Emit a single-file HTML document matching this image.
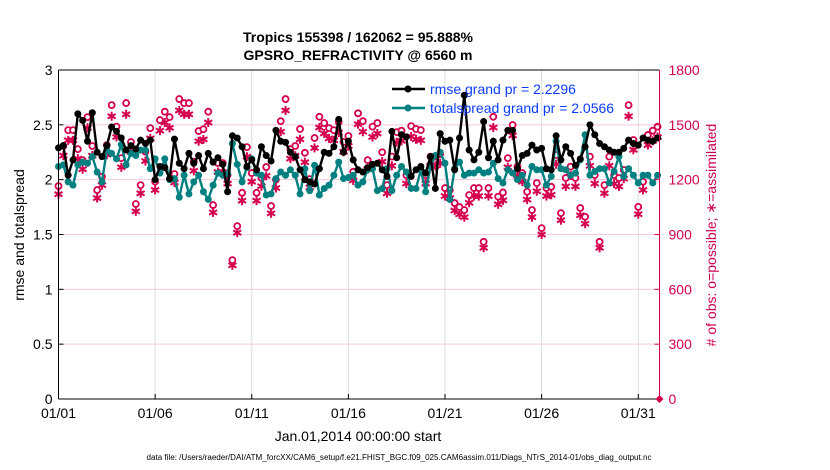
<!DOCTYPE html>
<html><head><meta charset="utf-8"><style>
html,body{margin:0;padding:0;background:#fff;}
svg{display:block;font-family:"Liberation Sans",Arial,sans-serif;}
</style></head><body>
<svg id="chart" width="830" height="470" viewBox="0 0 830 470">
<text x="358" y="42" text-anchor="middle" font-size="14" font-weight="bold">Tropics 155398 / 162062 = 95.888%</text>
<text x="358" y="60" text-anchor="middle" font-size="14" font-weight="bold">GPSRO_REFRACTIVITY @ 6560 m</text>
<g id="grid"></g>
<g id="marks"></g>
<g id="axes"></g>
<text transform="translate(24,235) rotate(-90)" text-anchor="middle" font-size="14">rmse and totalspread</text>
<text transform="translate(716,235) rotate(-90)" text-anchor="middle" font-size="14" fill="#cc0055"># of obs: o=possible; ∗=assimilated</text>
<text x="358" y="441" text-anchor="middle" font-size="14">Jan.01,2014 00:00:00 start</text>
<text x="399" y="460" text-anchor="middle" font-size="8" textLength="505" lengthAdjust="spacingAndGlyphs">data file: /Users/raeder/DAI/ATM_forcXX/CAM6_setup/f.e21.FHIST_BGC.f09_025.CAM6assim.011/Diags_NTrS_2014-01/obs_diag_output.nc</text>
<g>
<line x1="392" y1="89" x2="425" y2="89" stroke="#000" stroke-width="2.5"/>
<circle cx="408" cy="89" r="3.5" fill="#000"/>
<text x="430" y="94" font-size="14" fill="#0a3cff">rmse grand pr = 2.2296</text>
<line x1="392" y1="108" x2="425" y2="108" stroke="#008080" stroke-width="2.5"/>
<circle cx="408" cy="108" r="3.5" fill="#008080"/>
<text x="430" y="113" font-size="14" fill="#0a3cff">totalspread grand pr = 2.0566</text>
</g>
</svg>
<script>
const rmse=[2.29,2.31,2.04,2.18,2.60,2.54,2.35,2.61,
2.25,2.21,2.31,2.48,2.44,2.38,2.27,2.31,
2.28,2.36,2.33,2.36,2.00,2.12,2.11,2.01,
2.37,2.15,2.10,2.24,2.15,2.22,2.10,2.24,
2.16,2.20,2.14,1.89,2.40,2.38,2.30,2.12,
2.18,2.09,2.30,2.22,2.17,2.45,2.35,2.34,
2.25,2.21,2.09,2.00,1.98,1.96,2.10,2.25,
2.24,2.30,2.55,2.25,2.35,
2.18,2.09,2.07,2.11,2.14,2.15,2.09,2.03,2.44,2.20,2.41,2.39,2.03,2.09,2.12,2.06,2.21,1.92,2.42,2.35,2.36,2.09,2.38,2.77,2.27,2.18,2.25,2.53,2.20,2.35,2.18,2.36,2.45,
2.45,2.10,2.22,2.24,2.315,2.27,2.285,2.10,2.09,2.40,2.18,2.30,2.24,2.13,2.19,2.30,2.50,2.41,2.33,2.30,2.27,2.25,2.25,2.285,2.36,2.33,2.315,2.38,2.36,2.35,2.38];
const spread=[2.12,2.135,1.98,1.95,2.135,2.16,2.15,2.21,2.07,1.98,2.27,2.24,2.19,2.32,2.135,2.24,2.22,2.27,2.27,2.10,2.19,2.06,2.19,2.00,2.01,1.84,2.04,1.87,1.98,2.04,1.89,1.82,
1.95,2.06,2.04,2.05,2.33,2.14,1.98,2.11,2.19,2.06,2.04,1.86,1.87,2.01,2.07,2.04,2.09,2.04,1.87,2.10,1.90,2.13,1.86,1.92,1.95,2.04,2.16,2.01,2.02,
2.04,1.95,1.98,2.09,2.10,1.90,1.92,2.10,1.90,2.04,2.12,2.07,1.92,1.92,2.09,1.89,2.12,2.22,2.25,2.15,1.82,2.10,2.16,2.04,2.06,2.06,2.09,2.06,2.07,2.15,2.01,1.97,
2.09,2.06,2.00,2.04,1.95,2.12,2.09,2.09,1.95,2.03,2.35,2.10,2.09,2.04,2.06,2.18,2.41,2.04,2.075,2.10,2.10,1.97,2.075,2.21,2.03,2.10,2.04,1.97,2.04,2.04,1.97,2.04];
const possible=[1165,1384,1471,1471,1367,1307,1542,1384,1143,1216,1389,1608,1490,1318,1619,1406,1067,1170,1353,1482,1189,1526,1572,1542,1231,1641,1619,1619,1298,1466,1476,1572,
1061,1291,1291,1225,760,946,1128,1378,1236,1128,1210,1269,1056,1200,1520,1641,1367,1384,1477,1347,1203,1428,1544,1510,1482,1471,1515,1406,1439,1243,
1563,1520,1307,1490,1510,1350,1170,1326,1460,1468,1225,1493,1477,1471,1225,1326,1326,1340,1154,1143,1072,1050,1034,1116,1154,1154,860,1154,1544,1107,1130,1318,
1499,1271,1236,1134,1034,1181,935,1154,1161,1335,1017,1209,1271,1209,1045,997,1326,1225,860,1170,1326,1225,1209,1253,1608,1417,1051,1189,1444,1468,1490];
const assimRatio=0.962;
const xTickLabels=["01/01","01/06","01/11","01/16","01/21","01/26","01/31"];
const xTickDays=[0,5,10,15,20,25,30];
const yTicks=[0,0.5,1,1.5,2,2.5,3];
const y2Ticks=[0,300,600,900,1200,1500,1800];

const NS="http://www.w3.org/2000/svg";
const L=58.5,R=659.5,T=70,B=399,DMAX=31.1;
const X=d=>L+d/DMAX*(R-L);
const Y=v=>B-v/3*(B-T);
const Y2=c=>B-c/1800*(B-T);
const MAG="#d4004f";
function mk(tag,attrs,parent){const e=document.createElementNS(NS,tag);for(const k in attrs)e.setAttribute(k,attrs[k]);parent.appendChild(e);return e;}
const grid=document.getElementById('grid'),marks=document.getElementById('marks'),axes=document.getElementById('axes');
xTickDays.forEach((d,i)=>{
  const g=mk('line',{x1:X(d),x2:X(d),y1:T,y2:B,stroke:"#dcdcdc","stroke-width":1},grid);
  
  
  const t=mk('text',{x:X(d),y:B+19,"text-anchor":"middle","font-size":14},axes);
  t.textContent=xTickLabels[i];
  
  
  mk('line',{x1:X(d),x2:X(d),y1:B,y2:B-5,stroke:"#000"},axes);
});
y2Ticks.forEach(c=>{
  const g=mk('line',{x1:L,x2:R,y1:Y2(c),y2:Y2(c),stroke:"#f6c8dc","stroke-width":1},grid);
  
  
  const t=mk('text',{x:R+9,y:Y2(c)+5,"font-size":14,fill:MAG},axes);
  t.textContent=c;
  
  
  mk('line',{x1:R,x2:R-5,y1:Y2(c),y2:Y2(c),stroke:MAG},axes);
});
yTicks.forEach(v=>{
  const t=mk('text',{x:L-6,y:Y(v)+5,"text-anchor":"end","font-size":14},axes);
  t.textContent=v;
  
  
  mk('line',{x1:L,x2:L+5,y1:Y(v),y2:Y(v),stroke:"#000"},axes);
});
mk('line',{x1:L,x2:L,y1:T,y2:B,stroke:"#000"},axes);
mk('line',{x1:L,x2:R,y1:T,y2:T,stroke:"#000"},axes);
mk('line',{x1:L,x2:R,y1:B,y2:B,stroke:"#000"},axes);
mk('line',{x1:R,x2:R,y1:T,y2:B,stroke:MAG},axes);
const dia=mk('path',{d:`M${R} ${B-4}L${R+4} ${B}L${R} ${B+4}L${R-4} ${B}Z`,fill:MAG},axes);



possible.forEach((c,i)=>{
  const x=X(i/4),ya=Y2(c*assimRatio);
  const s=mk('g',{stroke:MAG,"stroke-width":2},marks);
  
  
  [[0,4.5],[4,2.3],[4,-2.3]].forEach(([dx,dy])=>mk('line',{x1:x-dx,y1:ya-dy,x2:x+dx,y2:ya+dy},s));
});
possible.forEach((c,i)=>{
  const o=mk('circle',{cx:X(i/4),cy:Y2(c),r:3,fill:"#fff",stroke:MAG,"stroke-width":1.8},marks);
  
  
});
function series(arr,color,name){
  const p=mk('polyline',{points:arr.map((v,i)=>X(i/4)+','+Y(v)).join(' '),fill:"none",stroke:color,"stroke-width":2.4},marks);
  
  
  arr.forEach((v,i)=>{
    const c=mk('circle',{cx:X(i/4),cy:Y(v),r:3.5,fill:color},marks);
    
    
  });
}
series(spread,"#008080","totalspread");
series(rmse,"#000000","rmse");
</script>
</body></html>
